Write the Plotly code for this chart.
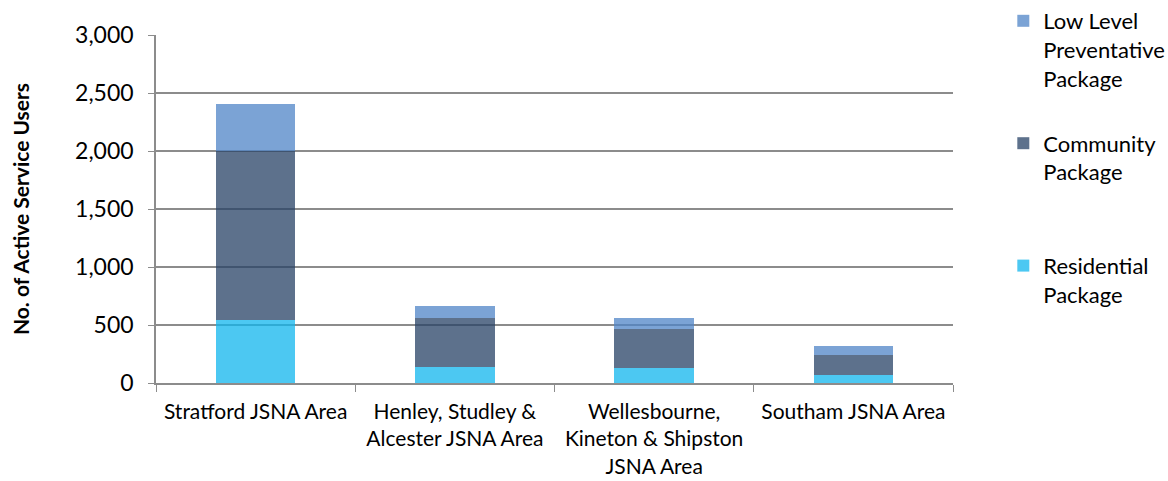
import plotly.graph_objects as go

# Active service users by JSNA area and package type
areas = [
    "Stratford JSNA Area",
    "Henley, Studley &<br>Alcester JSNA Area",
    "Wellesbourne,<br>Kineton & Shipston<br>JSNA Area",
    "Southam JSNA Area",
]
residential = [545, 137, 128, 68]
community = [1455, 425, 334, 172]
low_level = [409, 106, 98, 83]

y_ticks = [0, 500, 1000, 1500, 2000, 2500, 3000]
y_tick_text = ["0", "500", "1,000", "1,500", "2,000", "2,500", "3,000"]

FONT = "Lato"

fig = go.Figure()
# stacked bottom to top; legend rank lists the top segment first
series = [
    ("res", 3, "Residential<br>Package", residential, "rgba(16,182,238,0.75)"),
    ("com", 2, "Community<br>Package<br> <br> ", community, "rgba(39,66,102,0.75)"),
    ("low", 1, "Low Level<br>Preventative<br>Package<br> ", low_level, "rgba(79,132,199,0.75)"),
]
for grp, rank, name, vals, col in series:
    fig.add_trace(go.Bar(
        x=areas, y=vals, name=name, legendgroup=grp, legendrank=rank,
        marker=dict(color=col, line=dict(width=0)),
    ))

fig.update_layout(
    barmode="stack",
    bargap=0.6,
    width=1168, height=481,
    margin=dict(l=156, r=215, t=35, b=98),
    plot_bgcolor="white", paper_bgcolor="white",
    font=dict(family=FONT, size=20, color="black"),
    legend=dict(
        traceorder="grouped",
        xref="container", yref="container",
        x=0.859, y=1.0, xanchor="left", yanchor="top",
        valign="top",
        font=dict(family=FONT, size=22, color="black"),
        itemwidth=30,
        maxheight=475,
        tracegroupgap=5,
    ),
    showlegend=True,
)
fig.update_xaxes(
    showline=True, linecolor="#8c8c8c", linewidth=1.5,
    ticks="outside", tickson="boundaries", ticklen=7, tickcolor="#8c8c8c",
    tickfont=dict(family=FONT, size=21, color="black"),
    ticklabelstandoff=9,
    showgrid=False,
    automargin=False,
)
fig.update_yaxes(
    range=[0, 3000],
    tickvals=y_ticks, ticktext=y_tick_text,
    ticks="outside", ticklen=6, tickcolor="#8c8c8c",
    tickfont=dict(family=FONT, size=23, color="black"),
    ticklabelstandoff=10,
    showgrid=True, gridcolor="#8c8c8c", gridwidth=1.5,
    showline=True, linecolor="#8c8c8c", linewidth=1.5,
    zeroline=False,
    automargin=False,
    title=dict(text="<b>No. of Active Service Users</b>",
               font=dict(family=FONT, size=21, color="black"), standoff=40),
)

fig.write_html("out.html")
